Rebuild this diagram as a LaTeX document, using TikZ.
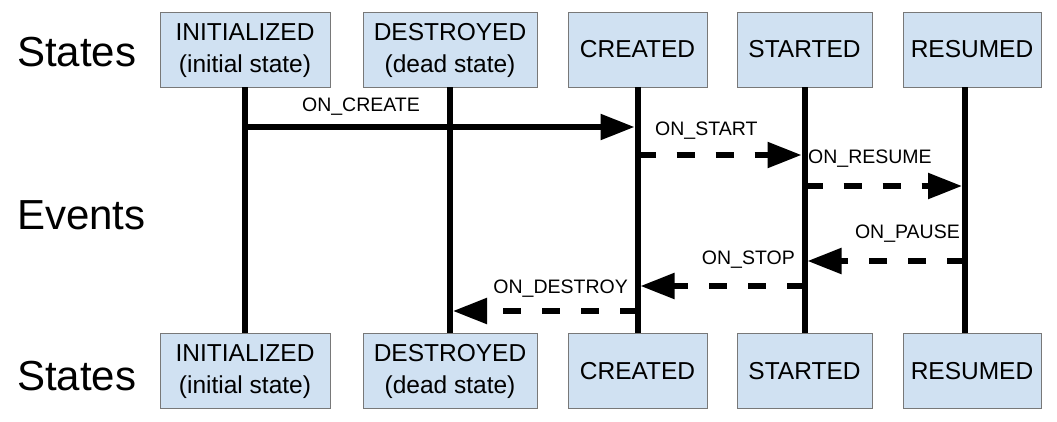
\documentclass[tikz,border=0pt]{standalone}
\usepackage{fontspec}
\setmainfont{Liberation Sans}
\usetikzlibrary{arrows.meta}
\definecolor{boxblue}{RGB}{208,225,242}
\definecolor{boxline}{RGB}{120,120,120}
\newcommand{\twolines}[2]{\raisebox{-6.5pt}{\begin{tabular}{@{}c@{}}#1\\[-1pt]#2\end{tabular}}}
\begin{document}
\begin{tikzpicture}[x=1pt,y=-1pt,
 statebox/.style={draw=boxline, line width=0.8pt, fill=boxblue, minimum height=75pt, inner sep=0pt, align=center, font=\fontsize{24.5}{33}\selectfont},
 life/.style={line width=6pt},
 ev/.style={line width=5.5pt, shorten >=3pt, -{Triangle[length=34pt,width=25pt]}},
 evd/.style={ev, dash pattern=on 18pt off 21pt},
 evlabel/.style={font=\fontsize{19.5}{22}\selectfont, inner sep=0pt},
 side/.style={font=\fontsize{42}{48}\selectfont, anchor=west, inner sep=0pt}]
\useasboundingbox (0,0) rectangle (1057,421);
% side labels
\node[side] (s1) at (17,52) {States};
\node[side] (s2) at (17,215) {Events};
\node[side] (s3) at (17,376) {States};
% top boxes
\node[statebox, minimum width=170pt] (iT) at (245,49.5) {\twolines{INITIALIZED}{(initial state)}};
\node[statebox, minimum width=174pt] (dT) at (450,49.5) {\twolines{DESTROYED}{(dead state)}};
\node[statebox, minimum width=139pt] (cT) at (637.5,49.5) {CREATED};
\node[statebox, minimum width=135pt] (sT) at (804.5,49.5) {STARTED};
\node[statebox, minimum width=138pt] (rT) at (972,49.5) {RESUMED};
% bottom boxes
\node[statebox, minimum width=170pt] (iB) at (245,371) {\twolines{INITIALIZED}{(initial state)}};
\node[statebox, minimum width=174pt] (dB) at (450,371) {\twolines{DESTROYED}{(dead state)}};
\node[statebox, minimum width=139pt] (cB) at (637.5,371) {CREATED};
\node[statebox, minimum width=135pt] (sB) at (804.5,371) {STARTED};
\node[statebox, minimum width=138pt] (rB) at (972,371) {RESUMED};
% lifelines
\coordinate (l1) at (iT.south);
\coordinate (l2) at (dT.south);
\coordinate (l3) at (cT.south);
\coordinate (l4) at (sT.south);
\coordinate (l5) at ([xshift=-7pt]rT.south);
\draw[life] (l1) -- (iB.north);
\draw[life] (l2) -- (dB.north);
\draw[life] (l3) -- (cB.north);
\draw[life] (l4) -- (sB.north);
\draw[life] (l5) -- ([xshift=-7pt]rB.north);
% event levels
\coordinate (yCreate) at (0,127);
\coordinate (yStart) at (0,155);
\coordinate (yResume) at (0,186);
\coordinate (yPause) at (0,261);
\coordinate (yStop) at (0,286);
\coordinate (yDestroy) at (0,311);
% events
\draw[ev] (l1 |- yCreate) -- (l3 |- yCreate);
\draw[evd] (l3 |- yStart) -- (l4 |- yStart);
\draw[evd] (l4 |- yResume) -- (l5 |- yResume);
\draw[evd] (l5 |- yPause) -- (l4 |- yPause);
\draw[evd] (l4 |- yStop) -- (l3 |- yStop);
\draw[evd] (l3 |- yDestroy) -- (l2 |- yDestroy);
% event labels
\node[evlabel] (tCreate) at (361,107) {ON\_CREATE};
\node[evlabel, anchor=west] (tStart) at (655,131) {ON\_START};
\node[evlabel, anchor=west] (tResume) at (808,159) {ON\_RESUME};
\node[evlabel, anchor=east] (tPause) at (960,234) {ON\_PAUSE};
\node[evlabel, anchor=east] (tStop) at (795,260) {ON\_STOP};
\node[evlabel, anchor=east] (tDestroy) at (628,289) {ON\_DESTROY};
\end{tikzpicture}
\end{document}
